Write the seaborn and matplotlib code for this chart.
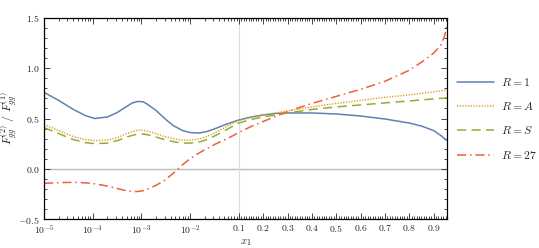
import numpy as np
import pandas as pd
import matplotlib
matplotlib.use("Agg")
import matplotlib.pyplot as plt
import seaborn as sns

# values
x1 = [1e-5, 2e-5, 4e-5, 7e-5, 1.1e-4, 2e-4, 3.2e-4, 5e-4, 6.5e-4, 8.5e-4,
      1.1e-3, 1.3e-3, 2e-3, 3e-3, 4.5e-3, 7e-3, 1e-2, 1.5e-2, 2.2e-2, 3.3e-2,
      4.7e-2, 7e-2, 0.1, 0.15, 0.2, 0.25, 0.3, 0.4, 0.5, 0.6, 0.7, 0.8, 0.85,
      0.9, 0.93, 0.945, 0.955]
r_one = [0.76, 0.68, 0.59, 0.53, 0.50, 0.515, 0.56, 0.62, 0.655, 0.67,
         0.665, 0.645, 0.58, 0.50, 0.43, 0.38, 0.36, 0.355, 0.37, 0.40,
         0.43, 0.46, 0.485, 0.515, 0.535, 0.55, 0.555, 0.555, 0.545, 0.525,
         0.495, 0.455, 0.425, 0.38, 0.33, 0.30, 0.28]
r_a = [0.44, 0.38, 0.32, 0.29, 0.28, 0.285, 0.31, 0.35, 0.37, 0.385,
       0.383, 0.375, 0.35, 0.32, 0.30, 0.285, 0.285, 0.295, 0.32, 0.36,
       0.40, 0.445, 0.48, 0.51, 0.535, 0.555, 0.575, 0.615, 0.65, 0.68,
       0.71, 0.735, 0.75, 0.765, 0.775, 0.78, 0.785]
r_s = [0.41, 0.35, 0.29, 0.26, 0.25, 0.255, 0.28, 0.315, 0.332, 0.345,
       0.345, 0.34, 0.315, 0.29, 0.27, 0.255, 0.255, 0.265, 0.29, 0.33,
       0.37, 0.415, 0.455, 0.49, 0.515, 0.535, 0.555, 0.59, 0.615, 0.635,
       0.655, 0.675, 0.685, 0.695, 0.70, 0.703, 0.705]
r_27 = [-0.145, -0.138, -0.135, -0.14, -0.15, -0.172, -0.197, -0.22, -0.227, -0.226,
        -0.218, -0.205, -0.165, -0.115, -0.045, 0.04, 0.10, 0.155, 0.20, 0.245,
        0.28, 0.32, 0.36, 0.42, 0.47, 0.52, 0.57, 0.65, 0.72, 0.79,
        0.87, 0.98, 1.06, 1.15, 1.23, 1.32, 1.42]
labels = ['$R = 1$', '$R = A$', '$R = S$', '$R = 27$']
colors = ['#5e81b5', '#e19c24', '#8fb032', '#eb6235']

df = pd.concat([pd.DataFrame({'x': x1, 'y': v, 'R': lab})
                for v, lab in zip([r_one, r_a, r_s, r_27], labels)])

sns.set_theme(style="ticks")
plt.rcParams['mathtext.fontset'] = 'cm'
plt.rcParams['font.family'] = ['DejaVu Serif']


# log below 0.1, linear above
def fwd(x):
    x = np.asarray(x, dtype=float)
    return np.where(x <= 0.1, np.log10(np.maximum(x, 1e-12)), -1 + 5 * (x - 0.1))


def inv(t):
    t = np.asarray(t, dtype=float)
    return np.where(t <= -1, 10.0 ** np.minimum(t, 0), 0.1 + (t + 1) / 5)


fig = plt.figure(figsize=(5.39, 2.48), dpi=100)
ax = fig.add_axes([44 / 539, 1 - 219 / 248, 403 / 539, 201 / 248])
ax.set_xscale('function', functions=(fwd, inv))

ax.axhline(0, color='#bbbbbb', lw=1, zorder=0)
ax.axvline(0.1, color='#dddddd', lw=0.8, zorder=0)

sns.lineplot(data=df, x='x', y='y', hue='R', style='R', ax=ax,
             palette=dict(zip(labels, colors)),
             dashes=dict(zip(labels, ['', (0.8, 1.0), (6, 3.5), (6, 2.5, 1, 2.5)])),
             linewidth=1.1, sort=False, estimator=None)

ax.set_xlim(1e-5, 0.955)
ax.set_ylim(-0.5, 1.5)

majors = [1e-5, 1e-4, 1e-3, 1e-2, 0.1, 0.2, 0.3, 0.4, 0.5, 0.6, 0.7, 0.8, 0.9]
mlabels = ['$10^{-5}$', '$10^{-4}$', '$10^{-3}$', '$10^{-2}$'] + \
          ['$%.1f$' % v for v in majors[4:]]
ax.set_xticks(majors)
ax.set_xticklabels(mlabels)
minors = [m * 10.0 ** e for e in range(-5, -1) for m in range(2, 10)]
minors += [round(0.1 + 0.01 * i, 2) for i in range(1, 86) if i % 10 != 0]
ax.set_xticks(minors, minor=True)
ax.set_yticks([-0.5, 0.0, 0.5, 1.0, 1.5])
ax.set_yticklabels(['$-0.5$', '$0.0$', '$0.5$', '$1.0$', '$1.5$'])
ax.set_yticks(np.arange(-0.5, 1.51, 0.1), minor=True)

ax.tick_params(which='both', direction='in', top=True, right=True,
               labelsize=7, width=0.6, pad=3)
ax.tick_params(which='major', length=4)
ax.tick_params(which='minor', length=2)
for s in ax.spines.values():
    s.set_linewidth(0.9)
    s.set_color('black')

ax.set_xlabel('$x_1$', fontsize=8, labelpad=0)
ax.set_ylabel(r'$F_{gg}^{(2)}\ /\ F_{gg}^{(1)}$', fontsize=8.5)
ax.yaxis.set_label_coords(-0.058, 0.5)

handles, labs = ax.get_legend_handles_labels()
ax.legend(handles, labs, loc='upper left', bbox_to_anchor=(1.012, 0.735),
          frameon=False, fontsize=8.5, handlelength=3.2, labelspacing=0.95,
          handletextpad=0.55, borderaxespad=0)

fig.savefig('out.png', dpi=100)
